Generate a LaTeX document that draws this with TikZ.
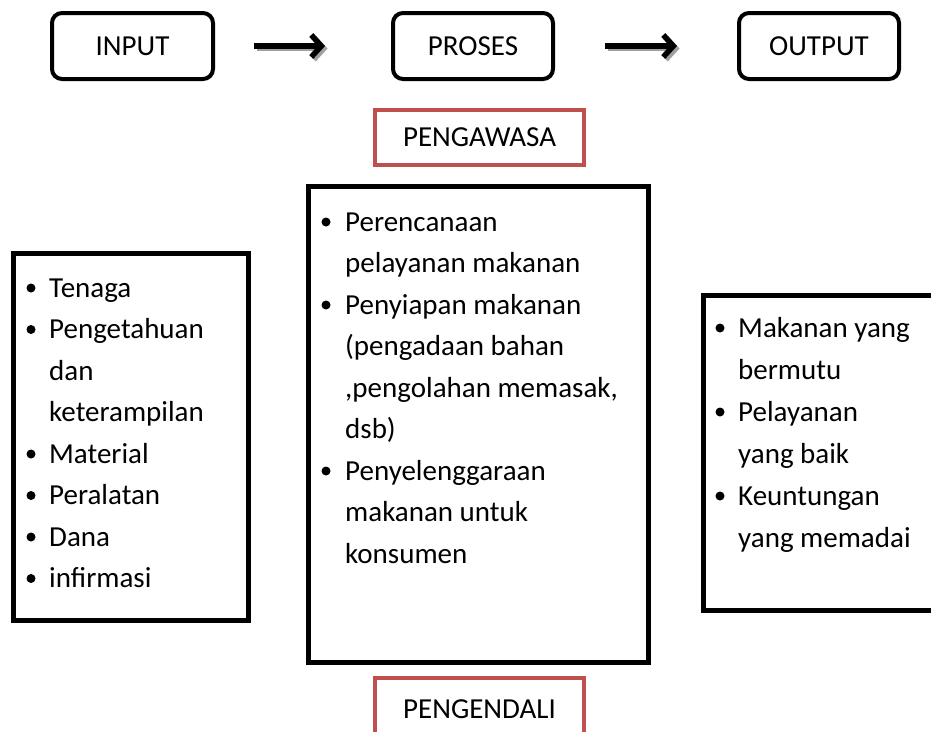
\documentclass[tikz,border=0pt]{standalone}
\usepackage{fontspec}
\setmainfont{Carlito}
\usetikzlibrary{arrows.meta}
\definecolor{redbox}{HTML}{C0504D}
\definecolor{shadowgray}{HTML}{A0A0A0}
\begin{document}
\begin{tikzpicture}[x=1pt,y=-1pt,
  every node/.style={font=\fontsize{29}{35}\selectfont, inner sep=0pt},
  topbox/.style={draw, line width=4pt, rounded corners=10pt, minimum height=66pt},
  listbox/.style={draw, line width=5pt},
  redframe/.style={draw=redbox, line width=3.5pt, minimum width=209pt},
  itemtext/.style={anchor=base west},
  bul/.style={circle, fill=black, minimum size=9pt},
  flow/.style={line width=5.5pt, -{Straight Barb[length=10pt,width=22pt]}},
  flowshadow/.style={flow, draw=shadowgray}
]
\useasboundingbox (0,0) rectangle (931,731);
\clip (0,0) rectangle (931,731);
\fill[white] (0,0) rectangle (931,731);

% top boxes
\node[topbox, minimum width=161pt] (in) at (132.5,46) {INPUT};
\node[topbox, minimum width=160pt] (pr) at (473,46) {PROSES};
\node[topbox, minimum width=160pt] (out) at (819,46) {OUTPUT};

% arrows with shadow
\draw[flowshadow, transform canvas={xshift=2.5pt,yshift=-2.5pt}, shorten <=39pt, shorten >=66pt] (in) -- (pr);
\draw[flow, shorten <=39pt, shorten >=66pt] (in) -- (pr);
\draw[flowshadow, transform canvas={xshift=2.5pt,yshift=-2.5pt}, shorten <=50pt, shorten >=60pt] (pr) -- (out);
\draw[flow, shorten <=50pt, shorten >=60pt] (pr) -- (out);

% red boxes
\node[redframe, minimum height=55pt] (aw) at (479.5,137.5) {PENGAWASA};
\node[redframe, minimum height=62pt] (ke) at (479.5,709) {PENGENDALI};

% list boxes
\node[listbox, minimum width=235pt, minimum height=367pt] (lb) at (130.5,436.5) {};
\node[listbox, minimum width=340pt, minimum height=476pt] (mb) at (478,424) {};
\node[listbox, minimum width=257pt, minimum height=315pt] (rb) at (831.5,452.5) {};

% left list
\node[bul] (lb1) at (31,288) {};
\node[itemtext] (l1) at (49,297) {Tenaga};
\node[bul] (lb2) at (31,329.5) {};
\node[itemtext] (l2) at (49,338.5) {Pengetahuan};
\node[itemtext] (l3) at (49,380) {dan};
\node[itemtext] (l4) at (49,421.5) {keterampilan};
\node[bul] (lb3) at (31,454) {};
\node[itemtext] (l5) at (49,463) {Material};
\node[bul] (lb4) at (31,495.5) {};
\node[itemtext] (l6) at (49,504.5) {Peralatan};
\node[bul] (lb5) at (31,537) {};
\node[itemtext] (l7) at (49,546) {Dana};
\node[bul] (lb6) at (31,578.5) {};
\node[itemtext] (l8) at (49,587.5) {infirmasi};

% middle list
\node[bul] (mb1) at (326,222) {};
\node[itemtext] (m1) at (345,231) {Perencanaan};
\node[itemtext] (m2) at (345,272.5) {pelayanan makanan};
\node[bul] (mb2) at (326,305) {};
\node[itemtext] (m3) at (345,314) {Penyiapan makanan};
\node[itemtext] (m4) at (345,355.5) {(pengadaan bahan};
\node[itemtext] (m5) at (345,397) {,pengolahan memasak,};
\node[itemtext] (m6) at (345,438.5) {dsb)};
\node[bul] (mb3) at (326,471) {};
\node[itemtext] (m7) at (345,480) {Penyelenggaraan};
\node[itemtext] (m8) at (345,521.5) {makanan untuk};
\node[itemtext] (m9) at (345,563) {konsumen};

% right list
\node[bul] (rb1) at (720,328) {};
\node[itemtext] (r1) at (738,337) {Makanan yang};
\node[itemtext] (r2) at (738,379) {bermutu};
\node[bul] (rb2) at (720,412) {};
\node[itemtext] (r3) at (738,421) {Pelayanan};
\node[itemtext] (r4) at (738,463) {yang baik};
\node[bul] (rb3) at (720,496) {};
\node[itemtext] (r5) at (738,505) {Keuntungan};
\node[itemtext] (r6) at (738,547) {yang memadai};
\end{tikzpicture}
\end{document}
